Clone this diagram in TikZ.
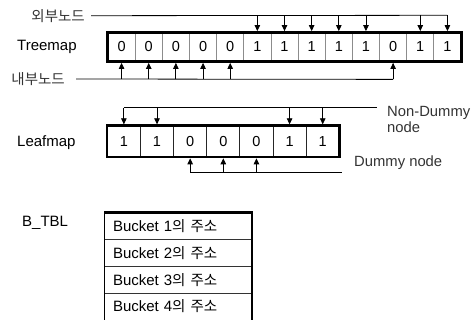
\documentclass[tikz,border=0pt]{standalone}
\usepackage{fontspec}
\setmainfont{Liberation Sans}
\newfontfamily\krfont{Noto Sans CJK KR}
\usetikzlibrary{arrows.meta}
\begin{document}
\begin{tikzpicture}[x=1pt,y=-1pt,
  lbl/.style={font=\fontsize{15}{16}\selectfont, inner sep=0pt},
  note/.style={font=\fontsize{14.8}{16}\selectfont, inner sep=0pt, text=black!80},
  krlbl/.style={font=\krfont\fontsize{14.5}{15}\selectfont, inner sep=0pt, text=black!80},
  tcell/.style={draw=black!45, line width=0.8pt, minimum width=27.154pt,
    minimum height=28pt, inner sep=0pt, font=\fontsize{14.5}{16}\selectfont},
  lcell/.style={draw=black!85, line width=0.8pt, minimum width=33.143pt,
    minimum height=30.7pt, inner sep=0pt, font=\fontsize{14.5}{16}\selectfont},
  brow/.style={minimum height=26.8pt, text width=130.7pt, inner xsep=8pt,
    inner ysep=0pt, align=left, font=\fontsize{15}{16}\selectfont},
  wire/.style={line width=0.8pt},
  ptr/.style={line width=0.8pt, -{Triangle[length=6pt,width=5.5pt]}}
]
\useasboundingbox (0,0) rectangle (474,320);

% ---- Treemap ----
\node[lbl, anchor=west] (tmlbl) at (17,47) {Treemap};
\foreach \v [count=\i from 0] in {0,0,0,0,0,1,1,1,1,1,0,1,1}
  \node[tcell] (t\i) at ({108+27.154*(\i+0.5)},47) {\v};
\draw[line width=3pt] (t0.north west) rectangle (t12.south east);

% external nodes
\node[krlbl, anchor=east] (ext) at (85,15.7) {외부노드};
\path (t12.north) ++(0,-17.3) coordinate (extEnd);
\draw[wire] ([xshift=6pt]ext.east) -- (extEnd);
\foreach \i in {5,6,7,8,9,11,12}
  \draw[ptr] (t\i.north |- extEnd) -- ([yshift=1.5pt]t\i.north);

% internal nodes
\node[krlbl, anchor=east] (int) at (65,79) {내부노드};
\path (t10.south) ++(0,18) coordinate (intEnd);
\draw[wire] ([xshift=11pt]int.east) -- (intEnd);
\foreach \i in {0,1,2,3,4,10}
  \draw[ptr] (t\i.south |- intEnd) -- ([yshift=-1.5pt]t\i.south);

% ---- Leafmap ----
\node[lbl, anchor=west] (lmlbl) at (17,143) {Leafmap};
\foreach \v [count=\i from 0] in {1,1,0,0,0,1,1}
  \node[lcell] (l\i) at ({107.3+33.143*(\i+0.5)},141.35) {\v};
\draw[line width=2.5pt] (l0.north west) rectangle (l6.south east);

% non-dummy nodes
\path (l6.north) ++(54,-17.7) coordinate (ndEnd);
\draw[wire] (l0.north |- ndEnd) -- (ndEnd);
\foreach \i in {0,1,5,6}
  \draw[ptr] (l\i.north |- ndEnd) -- ([yshift=1.25pt]l\i.north);
\node[note, anchor=west, align=left] (ndlbl) at (387,119) {Non-Dummy\\node};

% dummy nodes
\path (l6.south) ++(19,15) coordinate (dEnd);
\draw[wire] (l2.south |- dEnd) -- (dEnd);
\foreach \i in {2,3,4}
  \draw[ptr] (l\i.south |- dEnd) -- ([yshift=-1.25pt]l\i.south);
\node[note, anchor=west] (dlbl) at (354,163) {Dummy node};

% ---- B_TBL ----
\node[lbl, anchor=west] (btlbl) at (22,223) {B\_TBL};
\foreach \i in {1,2,3,4}
  \node[brow] (b\i) at (178.35,{212.7+26.8*(\i-0.5)}) {Bucket \i{\krfont\fontsize{14.5}{16}\selectfont 의 주소}};
\foreach \i in {1,2,3}
  \draw[line width=0.8pt, black!80] (b\i.south west) -- (b\i.south east);
\draw[line width=1pt] (b1.north west) -- (b4.south west);
\draw[line width=2.2pt] (b4.south east) -- (b1.north east) -- ([xshift=-0.5pt]b1.north west);
\end{tikzpicture}
\end{document}
